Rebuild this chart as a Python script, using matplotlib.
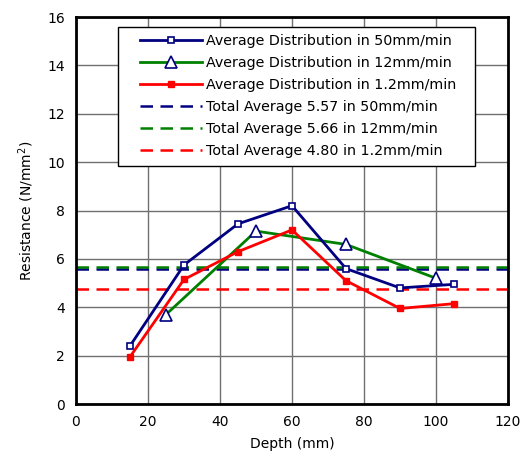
import matplotlib
matplotlib.use("Agg")
import matplotlib.pyplot as plt
from matplotlib.legend_handler import HandlerLine2D
from matplotlib.lines import Line2D

# depth (mm) and resistance (N/mm^2)
depth_50 = [15, 30, 45, 60, 75, 90, 105]
res_50 = [2.4, 5.75, 7.45, 8.2, 5.6, 4.8, 4.95]

depth_12 = [25, 50, 75, 100]
res_12 = [3.7, 7.15, 6.6, 5.2]

depth_1_2 = [15, 30, 45, 60, 75, 90, 105]
res_1_2 = [1.95, 5.15, 6.3, 7.2, 5.1, 3.95, 4.15]

avg_50 = 5.57
avg_12 = 5.66
avg_1_2 = 4.75
avg_labels = ["5.57", "5.66", "4.80"]

fig = plt.figure(figsize=(5.23, 4.62), dpi=100)
ax = fig.add_axes([0.1453, 0.1255, 0.8260, 0.8375])

navy = "#000080"
green = "#008000"
red = "#ff0000"

ax.plot(depth_50, res_50, color=navy, lw=2, marker="s", ms=5,
        mfc="white", mec=navy, mew=1.2, label="Average Distribution in 50mm/min", zorder=4)
ax.plot(depth_12, res_12, color=green, lw=2, marker="^", ms=9,
        mfc="white", mec=navy, mew=1.2, label="Average Distribution in 12mm/min", zorder=3)
ax.plot(depth_1_2, res_1_2, color=red, lw=2, marker="s", ms=5,
        mfc=red, mec=red, label="Average Distribution in 1.2mm/min", zorder=3)

ax.axhline(avg_50, color=navy, lw=1.8, ls=(0, (5, 3)),
           label="Total Average %s in 50mm/min" % avg_labels[0], zorder=2)
ax.axhline(avg_12, color=green, lw=1.8, ls=(0, (5, 3)),
           label="Total Average %s in 12mm/min" % avg_labels[1], zorder=2)
ax.axhline(avg_1_2, color=red, lw=1.8, ls=(0, (5, 3)),
           label="Total Average %s in 1.2mm/min" % avg_labels[2], zorder=2)

ax.set_xlim(0, 120)
ax.set_ylim(0, 16)
ax.set_xticks(range(0, 121, 20))
ax.set_yticks(range(0, 17, 2))
ax.tick_params(length=0, labelsize=10, pad=8)
ax.grid(True, color="#707070", lw=1)
ax.set_axisbelow(True)
for s in ax.spines.values():
    s.set_linewidth(2)

ax.set_xlabel("Depth (mm)", fontsize=10, labelpad=6)
ax.set_ylabel("Resistance (N/mm$^2$)", fontsize=10, labelpad=8)

leg = ax.legend(loc="upper left", bbox_to_anchor=(0.097, 0, 0.826, 0.974), mode="expand",
                borderaxespad=0, fontsize=10.3, handlelength=5.4, handletextpad=0.25,
                labelspacing=0.56, fancybox=False, framealpha=1, edgecolor="black",
                borderpad=0.5, handler_map={Line2D: HandlerLine2D(xpad=1.05)})
leg.get_frame().set_linewidth(1)

fig.savefig("out.png", dpi=100)
